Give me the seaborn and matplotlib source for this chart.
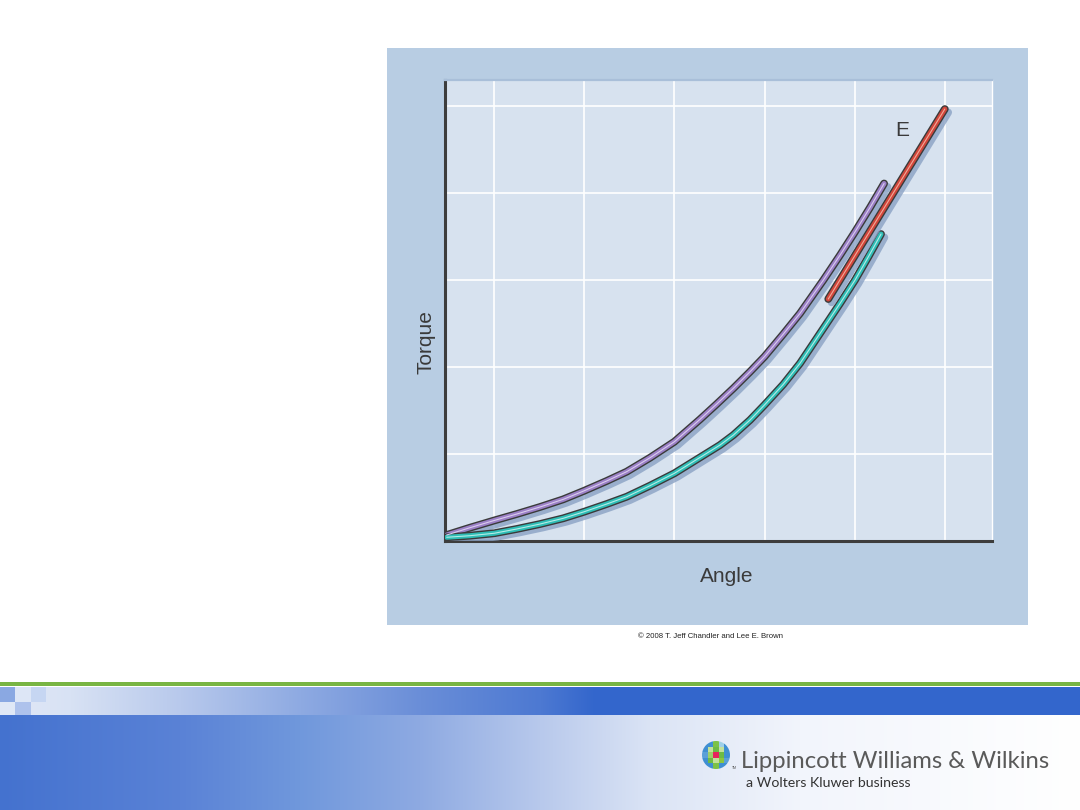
import numpy as np
import matplotlib
matplotlib.use("Agg")
import matplotlib.pyplot as plt
import matplotlib.patheffects as pe
from matplotlib.patches import Rectangle, Circle
import seaborn as sns

sns.set_style("white")
plt.rcParams['font.family'] = ['Liberation Sans', 'DejaVu Sans']

# ---------------- data ----------------
grid_x = [0, 1, 2, 3, 4, 5]
grid_y = [1, 2, 3, 4, 5]

purple_x = [-0.524, -0.266, 0.003, 0.252, 0.510, 0.768, 1.001, 1.249, 1.471, 1.729, 1.999,
            2.284, 2.469, 2.653, 2.838, 2.997, 3.207, 3.392, 3.651, 3.836, 4.002, 4.169, 4.324]
purple_y = [0.069, 0.153, 0.236, 0.310, 0.391, 0.479, 0.578, 0.690, 0.797, 0.957, 1.141,
            1.399, 1.575, 1.755, 1.946, 2.118, 2.379, 2.617, 3.000, 3.287, 3.555, 3.836, 4.110]

teal_x = [-0.524, -0.266, 0.003, 0.252, 0.510, 0.768, 1.001, 1.249, 1.471, 1.729, 1.999,
          2.505, 2.653, 2.838, 2.997, 3.207, 3.392, 3.540, 3.688, 3.836, 4.002, 4.150, 4.290]
teal_y = [0.043, 0.061, 0.089, 0.138, 0.195, 0.261, 0.337, 0.425, 0.509, 0.636, 0.778,
          1.103, 1.218, 1.391, 1.563, 1.801, 2.043, 2.272, 2.502, 2.732, 3.000, 3.268, 3.529]

red_x = [3.705, 4.997]
red_y = [2.782, 4.966]

e_label = "E"
e_pos = (4.52, 4.72)
x_label = "Angle"
y_label = "Torque"
credit = "\u00a9 2008 T. Jeff Chandler and Lee E. Brown"
brand = "Lippincott Williams & Wilkins"
brand_sub = "a Wolters Kluwer business"

# ---------------- figure ----------------
W, H = 1080, 810
fig = plt.figure(figsize=(10.8, 8.1), dpi=100)


def hex2rgb(h):
    h = h.lstrip('#')
    return np.array([int(h[i:i + 2], 16) / 255 for i in (0, 2, 4)])


def grad(xs, stops_x, stops_c):
    cols = np.array([hex2rgb(c) for c in stops_c])
    return np.stack([np.interp(xs, stops_x, cols[:, k]) for k in range(3)], axis=1)


img = np.ones((H, W, 3))
xs = np.arange(W)
# green rule
img[682:686, :, :] = hex2rgb('#78b543')
# upper blue band
band = grad(xs, [0, 70, 180, 300, 420, 540, 595, 1080],
            ['#e2e9f7', '#d8e2f4', '#b8c9ec', '#8eaae2', '#6a8ed8', '#4d79d2', '#3366cc', '#3366cc'])
img[687:715, :, :] = band[None, :, :]
img[687:702, 0:15] = hex2rgb('#8aa8e2')
img[687:702, 15:31] = hex2rgb('#dde6f6')
img[687:702, 31:46] = hex2rgb('#c6d6f2')
img[702:715, 0:15] = hex2rgb('#e0e8f6')
img[702:715, 15:31] = hex2rgb('#aec2ec')
# lower gradient
low = grad(xs, [0, 180, 300, 420, 540, 650, 800, 1080],
           ['#4472cf', '#5a82d6', '#7098dc', '#8eaae2', '#b8c9ec', '#dbe4f5', '#f2f5fc', '#ffffff'])
img[715:810, :, :] = low[None, :, :]
# figure panel
img[48:625, 387:1028] = hex2rgb('#b8cde3')

bg = fig.add_axes([0, 0, 1, 1], zorder=0)
bg.imshow(img, aspect='auto', extent=(0, W, H, 0), interpolation='nearest')
bg.set_xlim(0, W)
bg.set_ylim(H, 0)
bg.axis('off')

# logo icon
cx, cy, r = 716, 755, 14
clip = Circle((cx, cy), r, transform=bg.transData)
logo_cols = [
    ['#3f8fd2', '#3f8fd2', '#7cc246', '#9fd0e8', '#3f8fd2'],
    ['#3f8fd2', '#c2e19c', '#6dbb45', '#c2e19c', '#3f8fd2'],
    ['#5aa0d8', '#9ccf6a', '#e8245c', '#6dbb45', '#3f8fd2'],
    ['#3f8fd2', '#6dbb45', '#c2e19c', '#8cc63f', '#5aa0d8'],
    ['#3f8fd2', '#3f8fd2', '#7cc246', '#3f8fd2', '#3f8fd2'],
]
s = 2 * r / 5
for i in range(5):
    for j in range(5):
        rect = Rectangle((cx - r + j * s, cy - r + i * s), s, s,
                         facecolor=logo_cols[i][j], edgecolor='none', zorder=1)
        bg.add_patch(rect)
        rect.set_clip_path(clip)
bg.text(732, 768, 'TM', fontsize=2.5, color='#555555', ha='left', va='center')
bg.text(741, 768, brand, fontsize=17.2, family='Lato', color='#5a5a5a',
        ha='left', va='baseline')
bg.text(746, 783, brand_sub, fontsize=10.2, family='Lato', color='#333333',
        ha='left', va='center')
bg.text(710, 637, credit, fontsize=5.6, color='#222222', ha='center', va='center')

# ---------------- main axes ----------------
ax = fig.add_axes([445 / W, 1 - 541 / H, 547 / W, 461 / H], zorder=2)
ax.set_facecolor('#d7e2ef')
ax.set_xlim(-0.543, 5.52)
ax.set_ylim(0, 5.3)
ax.set_xticks(grid_x)
ax.set_yticks(grid_y)
ax.set_xticklabels([])
ax.set_yticklabels([])
ax.tick_params(length=0)
ax.grid(True, color='white', linewidth=1.2)
ax.set_axisbelow(True)
for side in ['left', 'bottom']:
    ax.spines[side].set_color('#3d3d3d')
    ax.spines[side].set_linewidth(2.2)
    ax.spines[side].set_visible(True)
ax.spines['top'].set_color('#a9bfd9')
ax.spines['top'].set_linewidth(1.6)
ax.spines['right'].set_color('#ffffff')
ax.spines['right'].set_linewidth(1.0)


def tube(x, y, color, light):
    effects = [pe.SimpleLineShadow(offset=(2.4, -2.4), shadow_color='#8aa2c4', alpha=0.8, linewidth=5.6),
               pe.Stroke(linewidth=5.6, foreground='#3a3a3a'),
               pe.Normal()]
    sns.lineplot(x=x, y=y, ax=ax, color=color, linewidth=3.6, sort=False, estimator=None,
                 solid_capstyle='round', solid_joinstyle='round', path_effects=effects, zorder=3)
    sns.lineplot(x=x, y=y, ax=ax, color=light, linewidth=0.8, sort=False, estimator=None,
                 solid_capstyle='round', solid_joinstyle='round', zorder=4)


tube(purple_x, purple_y, '#9b80c6', '#d9ccee')
tube(teal_x, teal_y, '#2fbdb6', '#b4ece6')
tube(red_x, red_y, '#d0463b', '#f4a898')

ax.text(e_pos[0], e_pos[1], e_label, fontsize=15, color='#3a3a3a', ha='center', va='center')

ax.set_xlabel(x_label, fontsize=15, color='#3a3a3a')
ax.xaxis.label.set_va('center')
ax.xaxis.set_label_coords((727 - 445) / 547, (541 - 577) / 461)
ax.set_ylabel(y_label, fontsize=15, color='#3a3a3a')
ax.yaxis.label.set_va('center')
ax.yaxis.set_label_coords((426 - 445) / 547, (541 - 342) / 461)

fig.savefig('out.png', dpi=100)
